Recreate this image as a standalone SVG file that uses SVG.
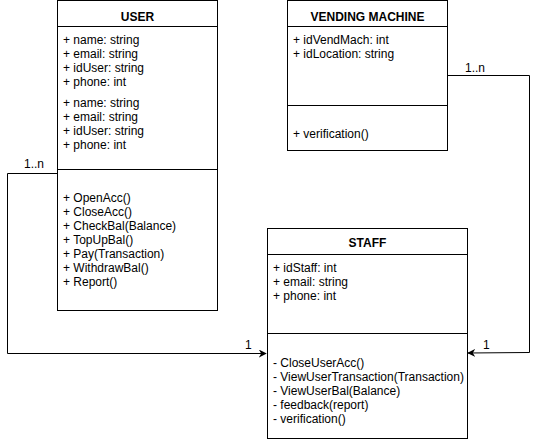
<svg xmlns="http://www.w3.org/2000/svg" width="540" height="442" viewBox="0 0 540 442">
<defs>
<style>
text{font-family:"Liberation Sans",Arial,sans-serif;font-size:12px;fill:#000}
.t{font-weight:bold;text-anchor:middle;font-size:12px}
.box{fill:#fff;stroke:#000;stroke-width:1}
.sep{stroke:#000;stroke-width:1}
.conn{fill:none;stroke:#000;stroke-width:1}
</style>
<marker id="arr" viewBox="0 0 10 10" refX="9" refY="5" markerWidth="8" markerHeight="8" markerUnits="userSpaceOnUse" orient="auto">
<path d="M0,0 L10,5 L0,10 L3,5 Z" fill="#000"/>
</marker>
</defs>
<rect width="540" height="442" fill="#fff"/>
<g id="connectors">
<polyline class="conn" points="57,173.5 7.5,173.5 7.5,353.5 266,353.5" marker-end="url(#arr)"/>
<polyline class="conn" points="447,75.5 529.5,75.5 529.5,352.5 468,353" marker-end="url(#arr)"/>
<text x="24" y="168">1..n</text>
<text x="245" y="349">1</text>
<text x="465" y="72">1..n</text>
<text x="483" y="349">1</text>
</g>
<g id="user">
<rect class="box" x="57.5" y="0.5" width="160" height="310"/>
<line class="sep" x1="57.5" y1="26.5" x2="217.5" y2="26.5"/>
<line class="sep" x1="57.5" y1="169.5" x2="217.5" y2="169.5"/>
<text class="t" x="137.5" y="21">USER</text>
<text x="63" y="44">+ name: string</text>
<text x="63" y="58">+ email: string</text>
<text x="63" y="72">+ idUser: string</text>
<text x="63" y="86">+ phone: int</text>
<text x="63" y="107">+ name: string</text>
<text x="63" y="121">+ email: string</text>
<text x="63" y="135">+ idUser: string</text>
<text x="63" y="149">+ phone: int</text>
<text x="63" y="202">+ OpenAcc()</text>
<text x="63" y="216">+ CloseAcc()</text>
<text x="63" y="230">+ CheckBal(Balance)</text>
<text x="63" y="244">+ TopUpBal()</text>
<text x="63" y="258">+ Pay(Transaction)</text>
<text x="63" y="272">+ WithdrawBal()</text>
<text x="63" y="286">+ Report()</text>
</g>
<g id="vending-machine">
<rect class="box" x="287.5" y="0.5" width="160" height="150"/>
<line class="sep" x1="287.5" y1="26.5" x2="447.5" y2="26.5"/>
<line class="sep" x1="287.5" y1="105.5" x2="447.5" y2="105.5"/>
<text class="t" x="367.5" y="21">VENDING MACHINE</text>
<text x="293" y="44">+ idVendMach: int</text>
<text x="293" y="58">+ idLocation: string</text>
<text x="293" y="138">+ verification()</text>
</g>
<g id="staff">
<rect class="box" x="267.5" y="228.5" width="200" height="210"/>
<line class="sep" x1="267.5" y1="254.5" x2="467.5" y2="254.5"/>
<line class="sep" x1="267.5" y1="333.5" x2="467.5" y2="333.5"/>
<text class="t" x="367.5" y="247">STAFF</text>
<text x="273" y="272">+ idStaff: int</text>
<text x="273" y="286">+ email: string</text>
<text x="273" y="300">+ phone: int</text>
<text x="273" y="367">- CloseUserAcc()</text>
<text x="273" y="381">- ViewUserTransaction(Transaction)</text>
<text x="273" y="395">- ViewUserBal(Balance)</text>
<text x="273" y="409">- feedback(report)</text>
<text x="273" y="423">- verification()</text>
</g>
</svg>
